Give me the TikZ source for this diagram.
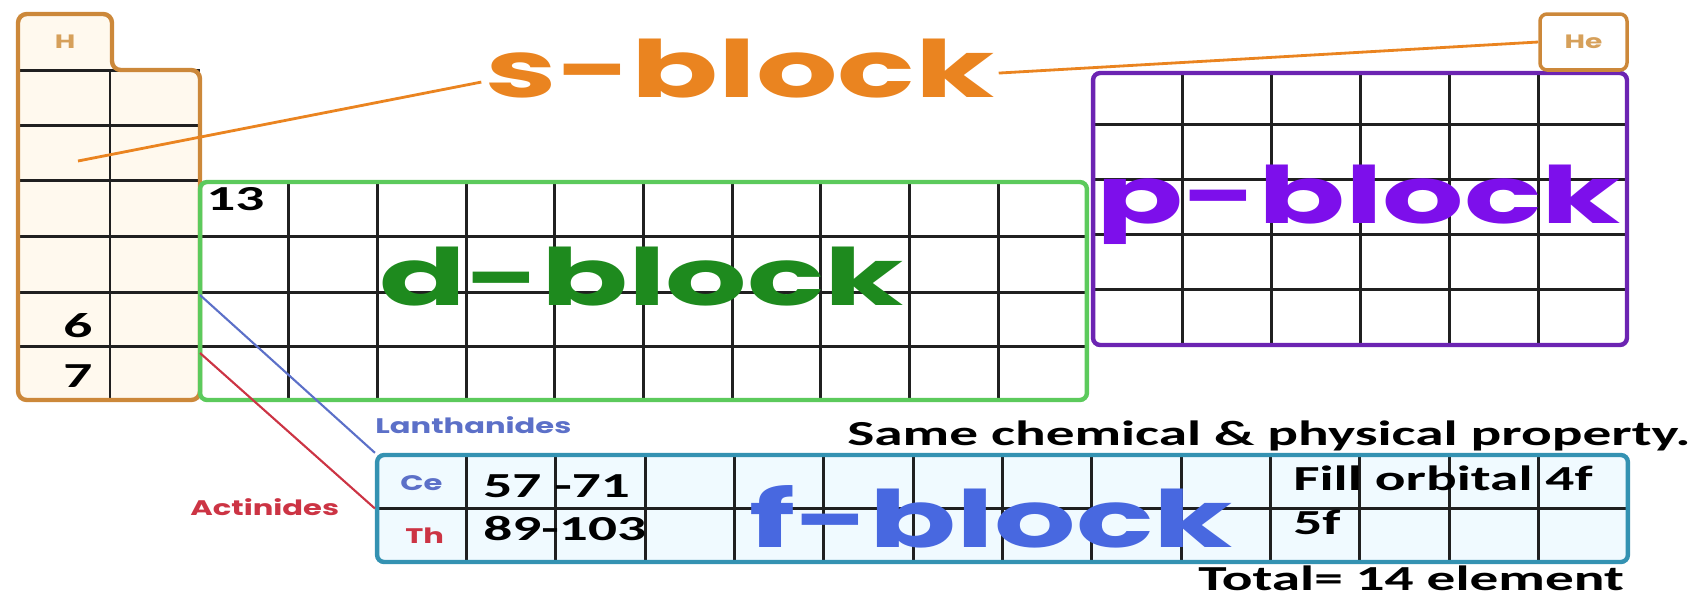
\documentclass[tikz,border=0pt]{standalone}
\usepackage{fontspec}
\usetikzlibrary{positioning, calc}
\newfontfamily\tablefont{Carlito}[FakeStretch=1.63]
\newfontfamily\blockfont{Poppins}[FakeStretch=1.62]
\newfontfamily\handfont{Poppins}[FakeStretch=1.45]
\definecolor{cS}{RGB}{234, 132, 32}
\definecolor{bS}{RGB}{204, 136, 58}
\definecolor{tS}{RGB}{214, 160, 90}
\definecolor{cD}{RGB}{30, 138, 30}
\definecolor{bD}{RGB}{92, 202, 92}
\definecolor{cP}{RGB}{125, 15, 235}
\definecolor{bP}{RGB}{108, 36, 178}
\definecolor{cF}{RGB}{72, 104, 224}
\definecolor{bF}{RGB}{52, 146, 178}
\definecolor{cLan}{RGB}{92, 112, 200}
\definecolor{cAct}{RGB}{204, 52, 68}
\definecolor{gGrid}{RGB}{32, 32, 32}
\definecolor{fS}{RGB}{255, 249, 238}
\definecolor{fF}{RGB}{240, 250, 255}

\begin{document}
\begin{tikzpicture}[
    x=0.02cm, y=-0.02cm,
    gridline/.style={line width=1.7pt, color=gGrid},
    frame/.style={draw=#1, line width=2.5pt, rounded corners=4pt, inner sep=0pt},
    blocklabel/.style={font=\blockfont\bfseries\fontsize{45}{45}\selectfont, text=#1, inner sep=0pt, anchor=base},
    cell/.style={font=\tablefont\bfseries\fontsize{20}{20}\selectfont, inner sep=0pt, anchor=base west},
    hand/.style={font=\handfont\bfseries\fontsize{12}{12}\selectfont, text=#1, inner sep=0pt, anchor=base west},
    link/.style={line width=#1}
]
\useasboundingbox (0,0) rectangle (1701,600);

\fill[fS] (18,14) rectangle (110,400) (110,70) rectangle (200,400);
\fill[fF] (377,455) rectangle (1628,562);

\draw[gridline] (110,70) -- (110,400);
\foreach \y in {70,125,180,236,292,346}
    \draw[gridline] (18,\y) -- (200,\y);
\foreach \i in {1,...,9}
    \draw[gridline] ({200+88.7*\i},182) -- ({200+88.7*\i},400);
\foreach \y in {236,292,346}
    \draw[gridline] (200,\y) -- (1087,\y);
\foreach \i in {1,...,5}
    \draw[gridline] ({1093+89*\i},73) -- ({1093+89*\i},345);
\foreach \y in {124,179,234,289}
    \draw[gridline] (1093,\y) -- (1627,\y);
\foreach \i in {1,...,13}
    \draw[gridline] ({377+89.36*\i},455) -- ({377+89.36*\i},562);
\draw[gridline] (377,508) -- (1628,508);

\draw[draw=bS, line width=2.5pt, rounded corners=5pt]
    (18,400) -- (18,14) -- (112,14) -- (112,70) -- (200,70) -- (200,400) -- cycle;
\node[frame=bD, minimum width=17.74cm, minimum height=4.36cm] (dblock) at (643.5,291) {};
\node[frame=bP, minimum width=10.68cm, minimum height=5.44cm] (pblock) at (1360,209) {};
\node[frame=bF, minimum width=25.02cm, minimum height=2.14cm] (fblock) at (1002.5,508.5) {};
\node[frame=bS, line width=2pt, minimum width=1.74cm, minimum height=1.12cm] (hebox) at (1583.5,42) {};

\node[font=\handfont\bfseries\fontsize{11}{11}\selectfont, text=tS] (hname) at (65,42) {H};
\node[font=\handfont\bfseries\fontsize{11}{11}\selectfont, text=tS] (hename) at (hebox) {He};

\node[blocklabel=cS] (slabel) at (740,97) {s-block};
\node[blocklabel=cD] (dlabel) at (642,305) {d-block};
\node[blocklabel=cP] (plabel) at (1359,223) {p-block};
\node[blocklabel=cF] (flabel) at (991,547) {f-block};

\node[cell] (per13) at (206,210) {13};
\node[cell] (per6) at (63,337) {6};
\node[cell] (per7) at (63,387) {7};
\node[cell] (lanrange) at (483,497) {57 -71};
\node[cell] (actrange) at (483,540) {89-103};
\node[cell] (fill4f) at (1293,490) {Fill orbital 4f};
\node[cell] (fill5f) at (1293,534) {5f};
\node[cell] (same) at (847,445) {Same chemical \& physical property.};
\node[cell] (total) at (1198,590) {Total= 14 element};

\node[hand=cLan] (lanname) at (375,433) {Lanthanides};
\node[hand=cAct] (actname) at (190,515) {Actinides};
\node[hand=cLan] (ce) at (400,490) {Ce};
\node[hand=cAct] (th) at (405,543) {Th};

\coordinate (sdot) at (78,161);
\coordinate (lanstart) at (200,295);
\coordinate (actstart) at (200,353);
\draw[link=1.6pt, draw=cS] (sdot) -- ($(slabel.west)+(-4,14)$);
\draw[link=1.6pt, draw=cS] ($(slabel.east)+(4,5)$) -- (hebox.west);
\draw[link=1.2pt, draw=cLan] (lanstart) -- (fblock.north west);
\draw[link=1.2pt, draw=cAct] (actstart) -- (fblock.west);

\end{tikzpicture}
\end{document}
